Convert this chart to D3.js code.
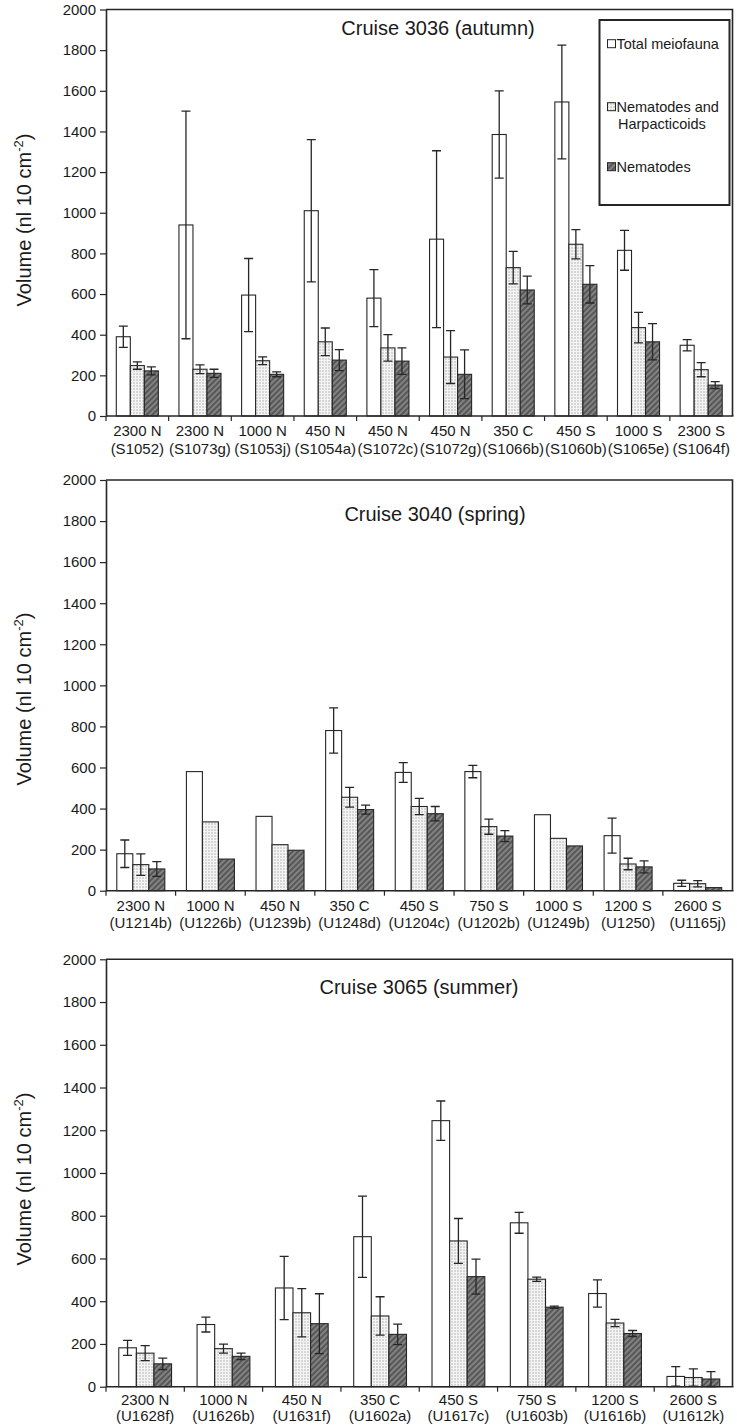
<!DOCTYPE html>
<html><head><meta charset="utf-8">
<script src="https://cdn.jsdelivr.net/npm/d3@7"></script>
<style>
html,body{margin:0;padding:0;background:#fff;}
svg{display:block;font-family:"Liberation Sans",Arial,sans-serif;}
</style></head>
<body>
<svg id="chart" width="737" height="1427"></svg>
<script>
// ---------- DATA ----------
const seriesNames = ["Total meiofauna", "Nematodes and Harpacticoids", "Nematodes"];
const yTicks = [0,200,400,600,800,1000,1200,1400,1600,1800,2000];

// Cruise 3036 (autumn)
const cats1 = ["2300 N","2300 N","1000 N","450 N","450 N","450 N","350 C","450 S","1000 S","2300 S"];
const samples1 = ["(S1052)","(S1073g)","(S1053j)","(S1054a)","(S1072c)","(S1072g)","(S1066b)","(S1060b)","(S1065e)","(S1064f)"];
const total1 = [390, 940, 595, 1010, 580, 870, 1385, 1545, 815, 348];
const totalErr1 = [52, 560, 180, 350, 140, 435, 215, 280, 98, 28];
const nh1 = [248, 230, 272, 365, 335, 290, 730, 845, 435, 228];
const nhErr1 = [18, 22, 19, 68, 65, 130, 80, 72, 75, 35];
const nem1 = [222, 210, 205, 275, 270, 205, 620, 648, 365, 152];
const nemErr1 = [20, 20, 12, 52, 65, 120, 68, 92, 89, 17];

// Cruise 3040 (spring)
const cats2 = ["2300 N","1000 N","450 N","350 C","450 S","750 S","1000 S","1200 S","2600 S"];
const samples2 = ["(U1214b)","(U1226b)","(U1239b)","(U1248d)","(U1204c)","(U1202b)","(U1249b)","(U1250)","(U1165j)"];
const total2 = [180, 580, 362, 780, 576, 580, 370, 268, 36];
const totalErr2 = [67, null, null, 110, 48, 30, null, 85, 15];
const nh2 = [127, 335, 224, 455, 410, 312, 255, 130, 34];
const nhErr2 = [52, null, null, 48, 40, 37, null, 28, 15];
const nem2 = [106, 154, 197, 395, 375, 266, 218, 116, 15];
const nemErr2 = [36, null, null, 22, 35, 27, null, 29, null];

// Cruise 3065 (summer)
const cats3 = ["2300 N","1000 N","450 N","350 C","450 S","750 S","1200 S","2600 S"];
const samples3 = ["(U1628f)","(U1626b)","(U1631f)","(U1602a)","(U1617c)","(U1603b)","(U1616b)","(U1612k)"];
const total3 = [182, 291, 462, 702, 1245, 767, 436, 48];
const totalErr3 = [35, 35, 148, 190, 92, 49, 64, 46];
const nh3 = [157, 178, 346, 331, 682, 503, 298, 43];
const nhErr3 = [35, 21, 113, 90, 105, 10, 17, 40];
const nem3 = [107, 142, 295, 245, 515, 372, 249, 36];
const nemErr3 = [27, 15, 140, 48, 82, 5, 14, 35];

// ---------- DRAW ----------
const svg = d3.select("#chart");
const defs = svg.append("defs");
// light checkered pattern
const p1 = defs.append("pattern").attr("id","pCheck").attr("patternUnits","userSpaceOnUse")
  .attr("width",3).attr("height",3);
p1.append("rect").attr("width",3).attr("height",3).attr("fill","#f4f4f4");
p1.append("rect").attr("x",1).attr("y",1).attr("width",2).attr("height",2).attr("fill","#d6d6d6");
// dark diagonal hatch
const p2 = defs.append("pattern").attr("id","pHatch").attr("patternUnits","userSpaceOnUse")
  .attr("width",4).attr("height",4).attr("patternTransform","rotate(45)");
p2.append("rect").attr("width",4).attr("height",4).attr("fill","#828282");
p2.append("rect").attr("width",2).attr("height",4).attr("fill","#575757");

const fills = ["#ffffff","url(#pCheck)","url(#pHatch)"];
const ink = "#262626";
const plotLeft = 106, plotRight = 732.5;

const panels = [
  {top:9.5, bottom:416, cats:cats1, samples:samples1,
   vals:[total1,nh1,nem1], errs:[totalErr1,nhErr1,nemErr1],
   title:"Cruise 3036 (autumn)", titleX:438, titleY:35, gap:1.47, labelY:220,
   line1:19.5, line2:38, legend:true},
  {top:480, bottom:890.7, cats:cats2, samples:samples2,
   vals:[total2,nh2,nem2], errs:[totalErr2,nhErr2,nemErr2],
   title:"Cruise 3040 (spring)", titleX:435, titleY:521, gap:1.35, labelY:699,
   line1:20, line2:37},
  {top:959.3, bottom:1386.7, cats:cats3, samples:samples3,
   vals:[total3,nh3,nem3], errs:[totalErr3,nhErr3,nemErr3],
   title:"Cruise 3065 (summer)", titleX:419, titleY:994, gap:1.45, labelY:1179,
   line1:18.5, line2:34}
];

panels.forEach(P => {
  const idx = d3.range(P.cats.length);
  const x0 = d3.scaleBand().domain(idx).range([plotLeft, plotRight]).padding(0);
  const x1 = d3.scaleBand().domain([0,1,2]).range([0, x0.bandwidth()])
    .paddingInner(0).paddingOuter(P.gap/2);
  const y = d3.scaleLinear().domain([0,2000]).range([P.bottom, P.top]);
  const g = svg.append("g");

  // frame (top and right)
  g.append("path")
    .attr("d", `M${plotLeft},${P.top}H${plotRight}V${P.bottom}`)
    .attr("fill","none").attr("stroke",ink).attr("stroke-width",1.6);

  // bars
  P.vals.forEach((arr, s) => {
    g.append("g").selectAll("rect").data(idx).join("rect")
      .attr("x", i => x0(i) + x1(s))
      .attr("y", i => y(arr[i]))
      .attr("width", x1.bandwidth())
      .attr("height", i => y(0) - y(arr[i]))
      .attr("fill", fills[s])
      .attr("stroke", ink).attr("stroke-width", 1.1);
  });

  // error bars
  P.vals.forEach((arr, s) => {
    const e = P.errs[s];
    const eg = g.append("g").attr("stroke", ink).attr("stroke-width", 1.3).attr("fill","none");
    idx.filter(i => e[i] != null).forEach(i => {
      const cx = x0(i) + x1(s) + x1.bandwidth()/2;
      const yt = y(arr[i] + e[i]), yb = y(Math.max(0, arr[i] - e[i]));
      eg.append("path").attr("d",
        `M${cx},${yt}V${yb}M${cx-4.5},${yt}H${cx+4.5}M${cx-4.5},${yb}H${cx+4.5}`);
    });
  });

  // y axis
  const ya = g.append("g").attr("transform", `translate(${plotLeft},0)`)
    .call(d3.axisLeft(y).tickValues(yTicks).tickFormat(d3.format("d"))
      .tickSize(6).tickPadding(4).tickSizeOuter(0));
  ya.select(".domain").attr("stroke", ink).attr("stroke-width",1.6);
  ya.selectAll(".tick line").attr("stroke", ink).attr("stroke-width",1.2);
  ya.selectAll(".tick text").attr("font-size",15).attr("fill","#1a1a1a")
    .attr("font-family",'"Liberation Sans",Arial,sans-serif');

  // x axis line and boundary ticks
  g.append("line").attr("x1", plotLeft).attr("x2", plotRight + 1)
    .attr("y1", y(0)).attr("y2", y(0)).attr("stroke", ink).attr("stroke-width",1.6);
  const bounds = idx.map(i => x0(i));
  g.append("g").selectAll("line").data(bounds).join("line")
    .attr("x1", d => d).attr("x2", d => d)
    .attr("y1", y(0)).attr("y2", y(0) + 5)
    .attr("stroke", ink).attr("stroke-width",1.2);

  // x labels
  const xl = g.append("g").attr("font-size",15).attr("fill","#1a1a1a").attr("text-anchor","middle");
  idx.forEach(i => {
    const cx = x0(i) + x0.bandwidth()/2;
    xl.append("text").attr("x", cx).attr("y", y(0) + P.line1).text(P.cats[i]);
    xl.append("text").attr("x", cx).attr("y", y(0) + P.line2).text(P.samples[i]);
  });

  // title
  g.append("text").attr("x", P.titleX).attr("y", P.titleY).attr("text-anchor","middle")
    .attr("font-size",20).attr("fill","#1a1a1a").text(P.title);

  // y label
  const yl = g.append("text").attr("transform", `translate(30.5,${P.labelY}) rotate(-90)`)
    .attr("text-anchor","middle").attr("font-size",20).attr("fill","#1a1a1a");
  yl.append("tspan").text("Volume (nl 10 cm");
  yl.append("tspan").attr("font-size",13).attr("dy",-8).text("-2");
  yl.append("tspan").attr("dy",8).text(")");

  // legend
  if (P.legend) {
    const lg = g.append("g");
    lg.append("rect").attr("x",599.5).attr("y",20).attr("width",130).attr("height",185)
      .attr("fill","#fff").attr("stroke",ink).attr("stroke-width",2);
    const items = [
      {lines:["Total meiofauna"], sy:43.7, base:48.5},
      {lines:["Nematodes and","Harpacticoids"], sy:106.7, base:111.7},
      {lines:["Nematodes"], sy:166.7, base:171.7}
    ];
    items.forEach((it, s) => {
      lg.append("rect").attr("x",607.5).attr("y",it.sy-4).attr("width",8).attr("height",8)
        .attr("fill",fills[s]).attr("stroke",ink).attr("stroke-width",1);
      it.lines.forEach((t, k) => {
        lg.append("text").attr("x", k === 0 ? 616.5 : 618).attr("y", it.base + k*16.8)
          .attr("font-size",14.5).attr("fill","#1a1a1a").text(t);
      });
    });
  }
});
</script>
</body></html>
